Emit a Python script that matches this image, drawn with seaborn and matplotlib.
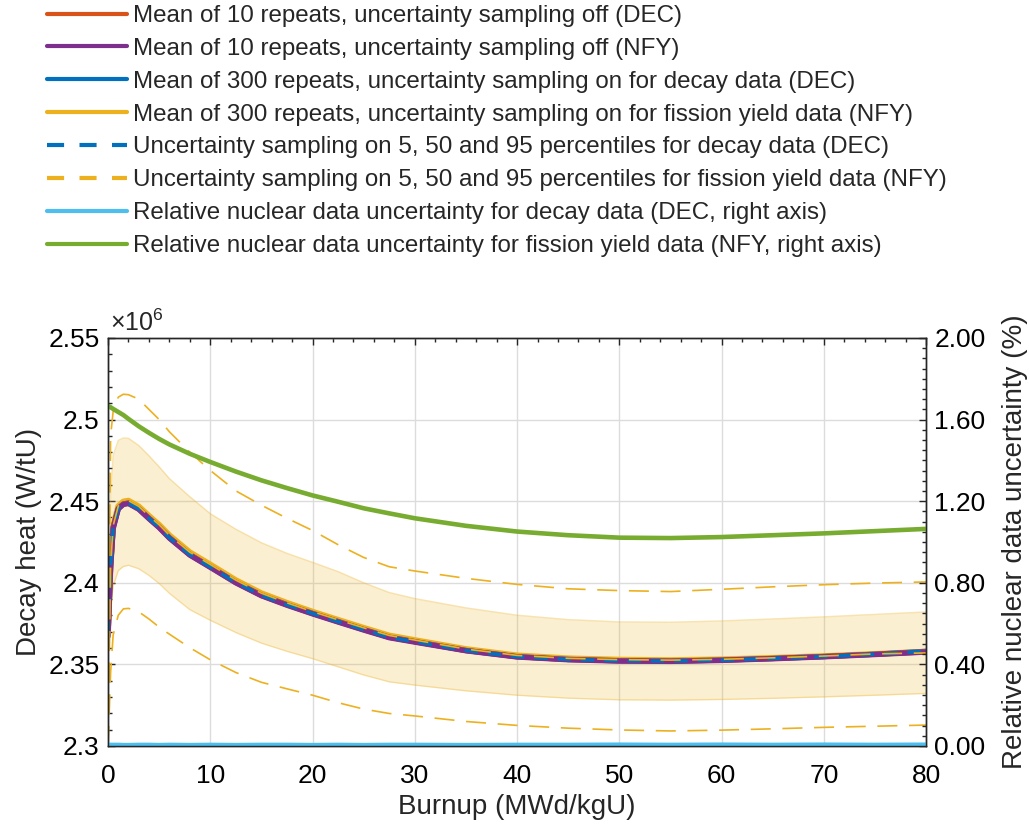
import matplotlib
matplotlib.use("Agg")
import matplotlib.pyplot as plt
import seaborn as sns
from matplotlib.lines import Line2D
from matplotlib.ticker import MultipleLocator, FuncFormatter

# burnup points (MWd/kgU)
burnup = [0, 0.25, 0.5, 1, 1.5, 2, 3, 4, 5, 6, 8, 10, 12.5, 15, 17.5, 20, 22.5, 25, 27.5, 30,
          35, 40, 45, 50, 55, 60, 65, 70, 75, 80]

# decay heat, x1e6 W/tU
mean_10_dec = [2.368, 2.410, 2.434, 2.4455, 2.4483, 2.4488, 2.4453, 2.4395, 2.4340, 2.4276,
               2.4172, 2.4097, 2.4002, 2.3923, 2.3865, 2.3812, 2.3762, 2.3713, 2.3666, 2.3639,
               2.3585, 2.3547, 2.3530, 2.3522, 2.3520, 2.3526, 2.3536, 2.3548, 2.3562, 2.3577]
mean_10_nfy = [2.367, 2.409, 2.433, 2.4452, 2.4480, 2.4485, 2.4450, 2.4392, 2.4337, 2.4273,
               2.4169, 2.4094, 2.3999, 2.3920, 2.3862, 2.3809, 2.3759, 2.3710, 2.3663, 2.3636,
               2.3583, 2.3545, 2.3528, 2.3520, 2.3518, 2.3524, 2.3534, 2.3546, 2.3560, 2.3575]
mean_300_dec = [2.368, 2.410, 2.434, 2.4455, 2.4483, 2.4488, 2.4453, 2.4395, 2.4340, 2.4276,
                2.4172, 2.4097, 2.4002, 2.3923, 2.3865, 2.3812, 2.3762, 2.3713, 2.3666, 2.3639,
                2.3585, 2.3547, 2.3530, 2.3522, 2.3520, 2.3526, 2.3536, 2.3548, 2.3562, 2.3580]
mean_300_nfy = [2.369, 2.411, 2.435, 2.4470, 2.4498, 2.4503, 2.4468, 2.4410, 2.4355, 2.4291,
                2.4187, 2.4112, 2.4016, 2.3936, 2.3877, 2.3823, 2.3773, 2.3724, 2.3677, 2.3649,
                2.3594, 2.3555, 2.3537, 2.3529, 2.3526, 2.3531, 2.3540, 2.3551, 2.3564, 2.3578]

# DEC percentiles collapse onto the mean (tiny uncertainty)
dec_p50 = [2.368, 2.410, 2.434, 2.4455, 2.4483, 2.4488, 2.4453, 2.4395, 2.4340, 2.4276,
           2.4172, 2.4097, 2.4002, 2.3923, 2.3865, 2.3812, 2.3762, 2.3713, 2.3666, 2.3639,
           2.3585, 2.3547, 2.3530, 2.3522, 2.3520, 2.3526, 2.3536, 2.3548, 2.3562, 2.3580]

nfy_p95 = [2.300, 2.490, 2.505, 2.5137, 2.5155, 2.5152, 2.5125, 2.5062, 2.5000, 2.4925,
           2.4800, 2.4688, 2.4563, 2.4475, 2.4395, 2.4320, 2.4233, 2.4155, 2.4098, 2.4072,
           2.4027, 2.3990, 2.3963, 2.3952, 2.3946, 2.3960, 2.3975, 2.3988, 2.3998, 2.4005]
nfy_p50 = [2.300, 2.410, 2.435, 2.4470, 2.4498, 2.4503, 2.4468, 2.4410, 2.4355, 2.4291,
           2.4187, 2.4112, 2.4016, 2.3936, 2.3877, 2.3823, 2.3773, 2.3724, 2.3677, 2.3649,
           2.3594, 2.3555, 2.3537, 2.3529, 2.3526, 2.3531, 2.3540, 2.3551, 2.3564, 2.3570]
nfy_p5 = [2.300, 2.345, 2.368, 2.3801, 2.3840, 2.3843, 2.3822, 2.3778, 2.3728, 2.3685,
          2.3602, 2.3528, 2.3450, 2.3390, 2.3350, 2.3311, 2.3265, 2.3226, 2.3199, 2.3184,
          2.3150, 2.3126, 2.3109, 2.3098, 2.3092, 2.3097, 2.3105, 2.3114, 2.3121, 2.3128]

band_high = [2.372, 2.455, 2.478, 2.4872, 2.4887, 2.4885, 2.4841, 2.4778, 2.4710, 2.4638,
             2.4527, 2.4423, 2.4328, 2.4245, 2.4180, 2.4125, 2.4068, 2.4000, 2.3940, 2.3903,
             2.3846, 2.3801, 2.3774, 2.3760, 2.3758, 2.3766, 2.3778, 2.3791, 2.3806, 2.3821]
band_low = [2.362, 2.385, 2.398, 2.4075, 2.4100, 2.4107, 2.4086, 2.4045, 2.3995, 2.3935,
            2.3835, 2.3770, 2.3695, 2.3630, 2.3580, 2.3535, 2.3485, 2.3435, 2.3393, 2.3373,
            2.3338, 2.3311, 2.3293, 2.3283, 2.3281, 2.3285, 2.3292, 2.3301, 2.3311, 2.3322]

# relative nuclear data uncertainty (%), right axis
unc_dec = [0.006, 0.005, 0.005, 0.005, 0.004, 0.004, 0.005, 0.005, 0.004, 0.005,
           0.004, 0.005, 0.004, 0.005, 0.005, 0.004, 0.005, 0.004, 0.005, 0.005,
           0.004, 0.005, 0.005, 0.006, 0.005, 0.006, 0.005, 0.006, 0.005, 0.006]
unc_nfy = [1.667, 1.660, 1.652, 1.637, 1.622, 1.603, 1.567, 1.535, 1.505, 1.478,
           1.432, 1.392, 1.345, 1.302, 1.264, 1.228, 1.197, 1.165, 1.140, 1.116,
           1.079, 1.051, 1.033, 1.021, 1.019, 1.024, 1.033, 1.042, 1.053, 1.064]

labels = [
    "Mean of 10 repeats, uncertainty sampling off (DEC)",
    "Mean of 10 repeats, uncertainty sampling off (NFY)",
    "Mean of 300 repeats, uncertainty sampling on for decay data (DEC)",
    "Mean of 300 repeats, uncertainty sampling on for fission yield data (NFY)",
    "Uncertainty sampling on 5, 50 and 95 percentiles for decay data (DEC)",
    "Uncertainty sampling on 5, 50 and 95 percentiles for fission yield data (NFY)",
    "Relative nuclear data uncertainty for decay data (DEC, right axis)",
    "Relative nuclear data uncertainty for fission yield data (NFY, right axis)",
]

RED, PURPLE, BLUE, YELLOW = "#D95319", "#7E2F8E", "#0072BD", "#EDB120"
LBLUE, GREEN = "#4DBEEE", "#77AC30"
DARK = "#262626"

sns.set_style("white")
plt.rcParams["font.family"] = ["Liberation Sans", "DejaVu Sans"]
plt.rcParams["mathtext.fontset"] = "custom"
plt.rcParams["mathtext.rm"] = "Liberation Sans"

fig = plt.figure(figsize=(10.29, 8.24), dpi=100)
ax = fig.add_axes([0.105, 0.0947, 0.795, 0.4952])

# shaded band
ax.fill_between(burnup, band_low, band_high, color=YELLOW, alpha=0.2, lw=0)
sns.lineplot(x=burnup, y=band_high, ax=ax, color=YELLOW, alpha=0.35, lw=1)
sns.lineplot(x=burnup, y=band_low, ax=ax, color=YELLOW, alpha=0.35, lw=1)

# mean curves
sns.lineplot(x=burnup, y=mean_300_nfy, ax=ax, color=YELLOW, lw=4.2)
sns.lineplot(x=burnup, y=mean_300_dec, ax=ax, color=BLUE, lw=3.8)
sns.lineplot(x=burnup, y=mean_10_dec, ax=ax, color=RED, lw=3.8)
sns.lineplot(x=burnup, y=mean_10_nfy, ax=ax, color=PURPLE, lw=3.8)
sns.lineplot(x=burnup, y=dec_p50, ax=ax, color=BLUE, lw=2.4, linestyle=(0, (4, 3)))

# NFY percentiles
for p in (nfy_p5, nfy_p50, nfy_p95):
    sns.lineplot(x=burnup, y=p, ax=ax, color=YELLOW, lw=1.2, linestyle=(0, (12, 7)))

ax.set_xlim(0, 80)
ax.set_ylim(2.3, 2.55)
ax.xaxis.set_major_locator(MultipleLocator(10))
ax.xaxis.set_minor_locator(MultipleLocator(2))
ax.yaxis.set_major_locator(MultipleLocator(0.05))
ax.yaxis.set_minor_locator(MultipleLocator(0.01))
ax.yaxis.set_major_formatter(FuncFormatter(lambda v, _: "%g" % round(v, 2)))
ax.grid(True, which="major", color="#dcdcdc", lw=1)
ax.set_axisbelow(True)
ax.tick_params(which="both", direction="in", top=True, right=False,
               colors=DARK, labelcolor="black", labelsize=19, width=1)
ax.tick_params(which="major", length=5, pad=6)
ax.tick_params(which="minor", length=3)
ax.tick_params(axis="x", pad=13)
for s in ax.spines.values():
    s.set_color(DARK)
    s.set_linewidth(1)

ax.set_xlabel("Burnup (MWd/kgU)", fontsize=20, labelpad=4)
ax.set_ylabel("Decay heat (W/tU)", fontsize=20, labelpad=5)
ax.text(0.002, 1.004, r"$\times10^{6}$", transform=ax.transAxes,
        fontsize=18, va="bottom", ha="left")

# right axis
ax2 = ax.twinx()
sns.lineplot(x=burnup, y=unc_dec, ax=ax2, color=LBLUE, lw=3.3)
sns.lineplot(x=burnup, y=unc_nfy, ax=ax2, color=GREEN, lw=3.3)
ax2.set_ylim(0, 2)
ax2.yaxis.set_major_locator(MultipleLocator(0.4))
ax2.yaxis.set_minor_locator(MultipleLocator(0.05))
ax2.yaxis.set_major_formatter(FuncFormatter(lambda v, _: "%.2f" % v))
ax2.tick_params(which="both", direction="in", colors=DARK, labelcolor="black",
                labelsize=19, width=1)
ax2.tick_params(which="major", length=5, pad=6)
ax2.tick_params(which="minor", length=3)
ax2.set_ylabel("Relative nuclear data uncertainty (%)", fontsize=20, labelpad=12)
for s in ax2.spines.values():
    s.set_color(DARK)
    s.set_linewidth(1)

handles = [
    Line2D([], [], color=RED, lw=3),
    Line2D([], [], color=PURPLE, lw=3),
    Line2D([], [], color=BLUE, lw=3),
    Line2D([], [], color=YELLOW, lw=3),
    Line2D([], [], color=BLUE, lw=3, linestyle=(0, (4.1, 3.7))),
    Line2D([], [], color=YELLOW, lw=3, linestyle=(0, (4.1, 3.7))),
    Line2D([], [], color=LBLUE, lw=3),
    Line2D([], [], color=GREEN, lw=3),
]
fig.legend(handles, labels, loc="upper left", bbox_to_anchor=(47 / 1029, 1 - 5 / 824),
           frameon=False, borderpad=0, borderaxespad=0, fontsize=17.4,
           handlelength=3.3, handletextpad=0.25, labelspacing=0.45)

fig.savefig("out.png", dpi=100)
